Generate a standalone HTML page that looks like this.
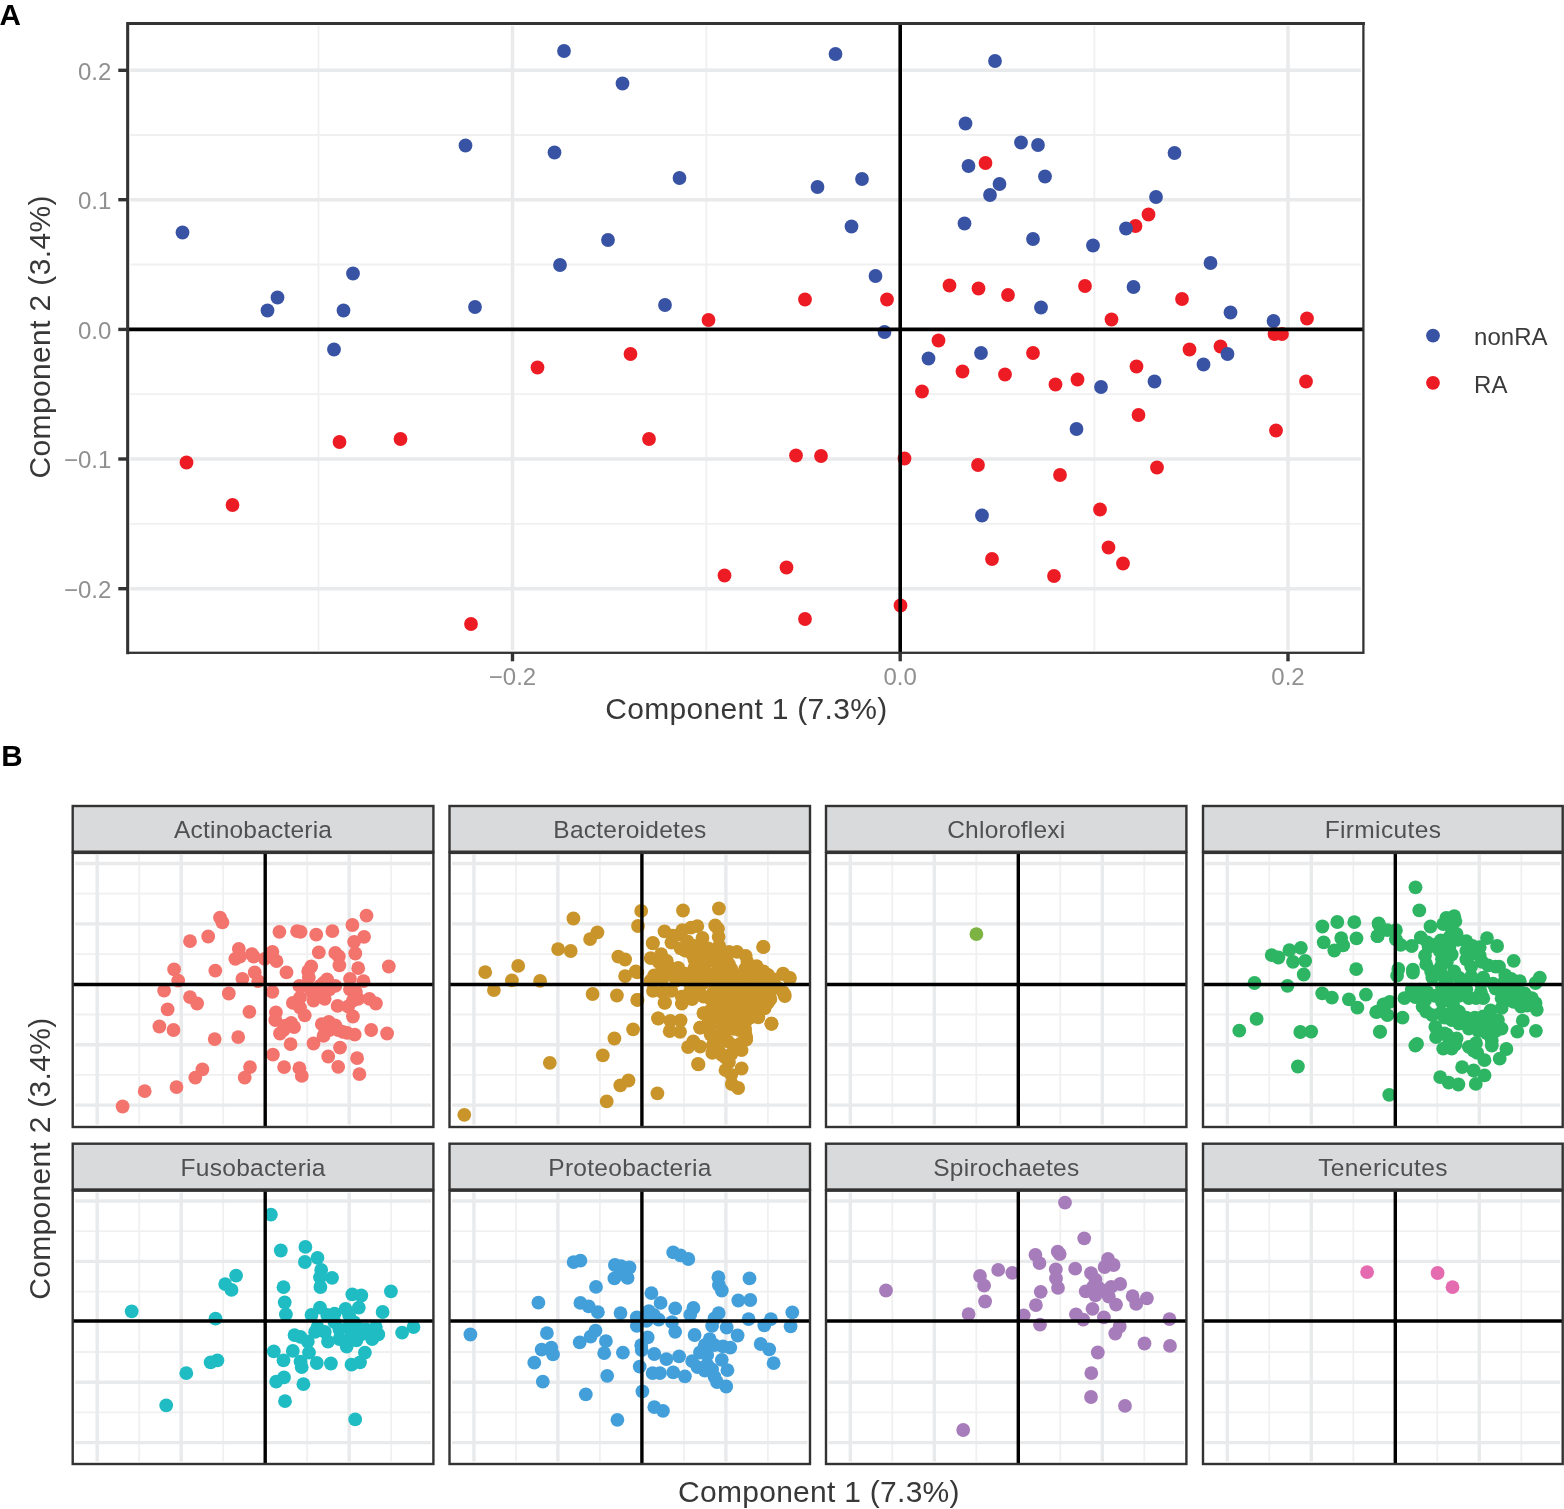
<!DOCTYPE html>
<html lang="en"><head><meta charset="utf-8"><title>Figure</title>
<style>
html,body{margin:0;padding:0;background:#fff;}
body{width:1564px;height:1509px;overflow:hidden;}
svg{display:block;}
text{font-family:"Liberation Sans","DejaVu Sans",sans-serif;}
.tick{font-size:24px;fill:#909090;}
.title{font-size:30px;fill:#383838;}
.strip{font-size:24.5px;fill:#505050;}
.lab{font-size:29.6px;font-weight:bold;fill:#000;}
.leg{font-size:24px;fill:#3a3a3a;}
</style></head><body>
<svg width="1564" height="1509" viewBox="0 0 1564 1509">
<rect x="0" y="0" width="1564" height="1509" fill="#fff"/>
<g id="panelA">
<g stroke="#f0f0f1" stroke-width="1.8">
<line x1="318.5" y1="26.1" x2="318.5" y2="650.3"/>
<line x1="706.3" y1="26.1" x2="706.3" y2="650.3"/>
<line x1="1094.4" y1="26.1" x2="1094.4" y2="650.3"/>
<line x1="130.3" y1="135" x2="1360.9" y2="135"/>
<line x1="130.3" y1="264.5" x2="1360.9" y2="264.5"/>
<line x1="130.3" y1="394.2" x2="1360.9" y2="394.2"/>
<line x1="130.3" y1="523.8" x2="1360.9" y2="523.8"/>
</g>
<g stroke="#e9eaec" stroke-width="3.5">
<line x1="512.5" y1="26.1" x2="512.5" y2="650.3"/>
<line x1="1288" y1="26.1" x2="1288" y2="650.3"/>
<line x1="130.3" y1="70.3" x2="1360.9" y2="70.3"/>
<line x1="130.3" y1="199.7" x2="1360.9" y2="199.7"/>
<line x1="130.3" y1="459" x2="1360.9" y2="459"/>
<line x1="130.3" y1="588.7" x2="1360.9" y2="588.7"/>
</g>
<g fill="#ed1c24"><circle cx="708.5" cy="320" r="6.9"/><circle cx="630.5" cy="354" r="6.9"/><circle cx="537.5" cy="367.5" r="6.9"/><circle cx="985.5" cy="163" r="6.9"/><circle cx="1148.5" cy="214.5" r="6.9"/><circle cx="1135.5" cy="226" r="6.9"/><circle cx="949.5" cy="285.5" r="6.9"/><circle cx="978.5" cy="288.5" r="6.9"/><circle cx="1008" cy="295" r="6.9"/><circle cx="1085" cy="286" r="6.9"/><circle cx="805" cy="299.5" r="6.9"/><circle cx="887" cy="299.5" r="6.9"/><circle cx="1182" cy="299" r="6.9"/><circle cx="1111.5" cy="319.5" r="6.9"/><circle cx="1307" cy="318.5" r="6.9"/><circle cx="1274.5" cy="334" r="6.9"/><circle cx="1282" cy="334" r="6.9"/><circle cx="938.5" cy="340.5" r="6.9"/><circle cx="1033" cy="353" r="6.9"/><circle cx="1189.5" cy="349.5" r="6.9"/><circle cx="1220.5" cy="346.5" r="6.9"/><circle cx="962.5" cy="371.5" r="6.9"/><circle cx="1005" cy="374.5" r="6.9"/><circle cx="1136.5" cy="366.5" r="6.9"/><circle cx="1077.5" cy="379.5" r="6.9"/><circle cx="1055.5" cy="384.5" r="6.9"/><circle cx="1306" cy="381.5" r="6.9"/><circle cx="339.5" cy="442" r="6.9"/><circle cx="400.5" cy="439" r="6.9"/><circle cx="649" cy="439" r="6.9"/><circle cx="186.5" cy="462.5" r="6.9"/><circle cx="232.5" cy="505" r="6.9"/><circle cx="724.5" cy="575.5" r="6.9"/><circle cx="786.5" cy="567.5" r="6.9"/><circle cx="471" cy="624" r="6.9"/><circle cx="922" cy="391.5" r="6.9"/><circle cx="1138.5" cy="415" r="6.9"/><circle cx="1276" cy="430.5" r="6.9"/><circle cx="796" cy="455.5" r="6.9"/><circle cx="821" cy="456" r="6.9"/><circle cx="904.5" cy="458.5" r="6.9"/><circle cx="978" cy="465" r="6.9"/><circle cx="1060" cy="475" r="6.9"/><circle cx="1157" cy="467.5" r="6.9"/><circle cx="1100" cy="509.5" r="6.9"/><circle cx="1108.5" cy="547.5" r="6.9"/><circle cx="992" cy="559" r="6.9"/><circle cx="1123" cy="563.5" r="6.9"/><circle cx="1054" cy="576" r="6.9"/><circle cx="900.5" cy="605.5" r="6.9"/><circle cx="805" cy="619" r="6.9"/></g>
<g fill="#3953a4"><circle cx="564" cy="51" r="6.9"/><circle cx="622.5" cy="83.5" r="6.9"/><circle cx="465.5" cy="145.5" r="6.9"/><circle cx="554.5" cy="152.5" r="6.9"/><circle cx="679.5" cy="178" r="6.9"/><circle cx="182.5" cy="232.5" r="6.9"/><circle cx="608" cy="240" r="6.9"/><circle cx="560" cy="265" r="6.9"/><circle cx="353" cy="273.5" r="6.9"/><circle cx="277.5" cy="297.5" r="6.9"/><circle cx="267.5" cy="310.5" r="6.9"/><circle cx="343.5" cy="310.5" r="6.9"/><circle cx="475" cy="307" r="6.9"/><circle cx="665" cy="305" r="6.9"/><circle cx="334" cy="349.5" r="6.9"/><circle cx="835.5" cy="54" r="6.9"/><circle cx="995" cy="61" r="6.9"/><circle cx="965.5" cy="123.5" r="6.9"/><circle cx="1021" cy="142.5" r="6.9"/><circle cx="1038" cy="145" r="6.9"/><circle cx="1174.5" cy="153" r="6.9"/><circle cx="968.5" cy="166" r="6.9"/><circle cx="1045" cy="176.5" r="6.9"/><circle cx="862" cy="179" r="6.9"/><circle cx="817.5" cy="187" r="6.9"/><circle cx="999.5" cy="184" r="6.9"/><circle cx="990" cy="195" r="6.9"/><circle cx="1156" cy="197" r="6.9"/><circle cx="964.5" cy="223.5" r="6.9"/><circle cx="851.5" cy="226.5" r="6.9"/><circle cx="1126" cy="228.5" r="6.9"/><circle cx="1033" cy="239" r="6.9"/><circle cx="1093" cy="245.5" r="6.9"/><circle cx="1210.5" cy="263" r="6.9"/><circle cx="875.5" cy="276" r="6.9"/><circle cx="1133.5" cy="287" r="6.9"/><circle cx="1041" cy="307.5" r="6.9"/><circle cx="1230.5" cy="312.5" r="6.9"/><circle cx="1273.5" cy="321" r="6.9"/><circle cx="884.5" cy="332" r="6.9"/><circle cx="928.5" cy="358.5" r="6.9"/><circle cx="981" cy="353" r="6.9"/><circle cx="1227.5" cy="354" r="6.9"/><circle cx="1203.5" cy="364.5" r="6.9"/><circle cx="1154.5" cy="381.5" r="6.9"/><circle cx="1101" cy="387" r="6.9"/><circle cx="1076.5" cy="429" r="6.9"/><circle cx="982" cy="515.5" r="6.9"/></g>
<g stroke="#000" stroke-width="3.6">
<line x1="900.2" y1="23.6" x2="900.2" y2="652.8"/>
<line x1="127.8" y1="329.4" x2="1363.4" y2="329.4"/>
</g>
<rect x="127.8" y="23.6" width="1235.6" height="629.2" fill="none" stroke="#333" stroke-width="2.3"/>
<path d="M127.7 652.8V23.5H1363.4" fill="none" stroke="#333" stroke-width="3" stroke-linecap="square"/>
<g stroke="#333" stroke-width="3.4">
<line x1="118.3" y1="70.3" x2="127.8" y2="70.3"/>
<line x1="118.3" y1="199.7" x2="127.8" y2="199.7"/>
<line x1="118.3" y1="329.4" x2="127.8" y2="329.4"/>
<line x1="118.3" y1="459" x2="127.8" y2="459"/>
<line x1="118.3" y1="588.7" x2="127.8" y2="588.7"/>
<line x1="512.5" y1="652.8" x2="512.5" y2="661.3"/>
<line x1="900.2" y1="652.8" x2="900.2" y2="661.3"/>
<line x1="1288" y1="652.8" x2="1288" y2="661.3"/>
</g>
<text class="tick" x="111.4" y="79.5" text-anchor="end">0.2</text>
<text class="tick" x="111.4" y="208.9" text-anchor="end">0.1</text>
<text class="tick" x="111.4" y="338.6" text-anchor="end">0.0</text>
<text class="tick" x="111.4" y="468.2" text-anchor="end">−0.1</text>
<text class="tick" x="111.4" y="597.9" text-anchor="end">−0.2</text>
<text class="tick" x="512.5" y="685.2" text-anchor="middle">−0.2</text>
<text class="tick" x="900.2" y="685.2" text-anchor="middle">0.0</text>
<text class="tick" x="1288" y="685.2" text-anchor="middle">0.2</text>
<text class="title" x="746.2" y="719.3" text-anchor="middle" textLength="282">Component 1 (7.3%)</text>
<text class="title" transform="translate(50.2,337) rotate(-90)" text-anchor="middle" textLength="283">Component 2 (3.4%)</text>
<circle cx="1433" cy="335.6" r="6.9" fill="#3953a4"/>
<text class="leg" x="1474" y="344.6" textLength="73.5">nonRA</text>
<circle cx="1433" cy="382.8" r="6.9" fill="#ed1c24"/>
<text class="leg" x="1474" y="392.6" textLength="33.5">RA</text>
<text class="lab" x="-0.6" y="24.7">A</text>
</g>
<g id="panelB">
<text class="lab" x="1.3" y="766">B</text>
<g>
<g stroke="#f0f0f1" stroke-width="1.8">
<line x1="139.2" y1="854.8" x2="139.2" y2="1124.5"/>
<line x1="223.2" y1="854.8" x2="223.2" y2="1124.5"/>
<line x1="307.2" y1="854.8" x2="307.2" y2="1124.5"/>
<line x1="391.2" y1="854.8" x2="391.2" y2="1124.5"/>
<line x1="75.2" y1="893.7" x2="430.9" y2="893.7"/>
<line x1="75.2" y1="954.1" x2="430.9" y2="954.1"/>
<line x1="75.2" y1="1014.5" x2="430.9" y2="1014.5"/>
<line x1="75.2" y1="1074.9" x2="430.9" y2="1074.9"/>
</g>
<g stroke="#e9eaec" stroke-width="3.4">
<line x1="97.2" y1="854.8" x2="97.2" y2="1124.5"/>
<line x1="181.2" y1="854.8" x2="181.2" y2="1124.5"/>
<line x1="349.2" y1="854.8" x2="349.2" y2="1124.5"/>
<line x1="75.2" y1="863.5" x2="430.9" y2="863.5"/>
<line x1="75.2" y1="923.9" x2="430.9" y2="923.9"/>
<line x1="75.2" y1="1044.7" x2="430.9" y2="1044.7"/>
<line x1="75.2" y1="1105.1" x2="430.9" y2="1105.1"/>
</g>
<g fill="#f3736d"><circle cx="366.5" cy="915.6" r="6.9"/><circle cx="220" cy="917.6" r="6.9"/><circle cx="222.4" cy="922.4" r="6.9"/><circle cx="352.4" cy="925" r="6.9"/><circle cx="279.4" cy="931.8" r="6.9"/><circle cx="297.1" cy="931.2" r="6.9"/><circle cx="300.6" cy="931.8" r="6.9"/><circle cx="316.2" cy="934.7" r="6.9"/><circle cx="332.4" cy="931.2" r="6.9"/><circle cx="208.2" cy="936.5" r="6.9"/><circle cx="364.1" cy="936.8" r="6.9"/><circle cx="354.1" cy="941.8" r="6.9"/><circle cx="190" cy="941.2" r="6.9"/><circle cx="238.8" cy="948.8" r="6.9"/><circle cx="318.8" cy="952.4" r="6.9"/><circle cx="335.3" cy="952.9" r="6.9"/><circle cx="338.8" cy="956.5" r="6.9"/><circle cx="355.3" cy="953.5" r="6.9"/><circle cx="272.4" cy="951.8" r="6.9"/><circle cx="251.8" cy="954.1" r="6.9"/><circle cx="253.5" cy="956.5" r="6.9"/><circle cx="235.3" cy="958.8" r="6.9"/><circle cx="240" cy="956.5" r="6.9"/><circle cx="264.7" cy="958.8" r="6.9"/><circle cx="276.5" cy="961.2" r="6.9"/><circle cx="339.4" cy="965.3" r="6.9"/><circle cx="388.8" cy="966.5" r="6.9"/><circle cx="358.2" cy="968.2" r="6.9"/><circle cx="311.2" cy="966.5" r="6.9"/><circle cx="308.2" cy="971.2" r="6.9"/><circle cx="174.1" cy="969.4" r="6.9"/><circle cx="215.3" cy="970.6" r="6.9"/><circle cx="254.7" cy="972.4" r="6.9"/><circle cx="286.5" cy="972.4" r="6.9"/><circle cx="242.4" cy="978.8" r="6.9"/><circle cx="178.2" cy="980.6" r="6.9"/><circle cx="258.2" cy="981.2" r="6.9"/><circle cx="327.1" cy="979.4" r="6.9"/><circle cx="350" cy="978.8" r="6.9"/><circle cx="363.5" cy="981.2" r="6.9"/><circle cx="308.8" cy="977.6" r="6.9"/><circle cx="299.4" cy="985.9" r="6.9"/><circle cx="320" cy="985.9" r="6.9"/><circle cx="329.4" cy="989.4" r="6.9"/><circle cx="164.1" cy="990.6" r="6.9"/><circle cx="272.4" cy="991.8" r="6.9"/><circle cx="228.8" cy="993.5" r="6.9"/><circle cx="350" cy="989.4" r="6.9"/><circle cx="311.8" cy="991.8" r="6.9"/><circle cx="190" cy="997.1" r="6.9"/><circle cx="197.1" cy="1003.5" r="6.9"/><circle cx="300" cy="997.6" r="6.9"/><circle cx="292.9" cy="1002.9" r="6.9"/><circle cx="313.5" cy="1000.6" r="6.9"/><circle cx="324.7" cy="998.8" r="6.9"/><circle cx="337.6" cy="1005.9" r="6.9"/><circle cx="348.2" cy="1006.5" r="6.9"/><circle cx="358.2" cy="998.8" r="6.9"/><circle cx="369.4" cy="998.8" r="6.9"/><circle cx="375.9" cy="1003.5" r="6.9"/><circle cx="167.6" cy="1009.4" r="6.9"/><circle cx="249.4" cy="1011.8" r="6.9"/><circle cx="275.9" cy="1012.4" r="6.9"/><circle cx="300" cy="1007.6" r="6.9"/><circle cx="304.7" cy="1015.3" r="6.9"/><circle cx="352.9" cy="1016.5" r="6.9"/><circle cx="275.3" cy="1020" r="6.9"/><circle cx="291.2" cy="1022.9" r="6.9"/><circle cx="294.1" cy="1027.1" r="6.9"/><circle cx="321.8" cy="1024.1" r="6.9"/><circle cx="328.8" cy="1021.8" r="6.9"/><circle cx="335.3" cy="1025.3" r="6.9"/><circle cx="159.4" cy="1026.5" r="6.9"/><circle cx="173.5" cy="1030" r="6.9"/><circle cx="283.5" cy="1030" r="6.9"/><circle cx="280" cy="1033.5" r="6.9"/><circle cx="325.3" cy="1030" r="6.9"/><circle cx="342.9" cy="1031.8" r="6.9"/><circle cx="354.7" cy="1034.7" r="6.9"/><circle cx="371.2" cy="1030" r="6.9"/><circle cx="387.1" cy="1033.5" r="6.9"/><circle cx="214.7" cy="1039.1" r="6.9"/><circle cx="238.2" cy="1037.1" r="6.9"/><circle cx="323.5" cy="1035.9" r="6.9"/><circle cx="313.5" cy="1043.5" r="6.9"/><circle cx="290.6" cy="1044.1" r="6.9"/><circle cx="340" cy="1047.6" r="6.9"/><circle cx="272.9" cy="1054.7" r="6.9"/><circle cx="328.2" cy="1056.5" r="6.9"/><circle cx="357.1" cy="1058.2" r="6.9"/><circle cx="284.1" cy="1067.1" r="6.9"/><circle cx="299.4" cy="1068.2" r="6.9"/><circle cx="301.8" cy="1075.9" r="6.9"/><circle cx="338.2" cy="1066.8" r="6.9"/><circle cx="359.4" cy="1074.1" r="6.9"/><circle cx="250" cy="1067.1" r="6.9"/><circle cx="244.7" cy="1077.6" r="6.9"/><circle cx="202.4" cy="1069.4" r="6.9"/><circle cx="195.3" cy="1077.6" r="6.9"/><circle cx="176.5" cy="1087.1" r="6.9"/><circle cx="144.7" cy="1091.2" r="6.9"/><circle cx="122.6" cy="1106.5" r="6.9"/><circle cx="305.9" cy="985.9" r="6.9"/><circle cx="317.6" cy="994.7" r="6.9"/><circle cx="323.5" cy="982.9" r="6.9"/><circle cx="335.3" cy="985.9" r="6.9"/><circle cx="355.9" cy="991.8" r="6.9"/><circle cx="352.9" cy="1000.6" r="6.9"/><circle cx="329.4" cy="1030" r="6.9"/><circle cx="338.2" cy="1030" r="6.9"/><circle cx="347.1" cy="1032.9" r="6.9"/><circle cx="285.3" cy="1025.6" r="6.9"/></g>
<g stroke="#000" stroke-width="3.4">
<line x1="265.2" y1="852.3" x2="265.2" y2="1127"/>
<line x1="72.7" y1="984.5" x2="433.4" y2="984.5"/>
</g>
<rect x="72.7" y="852.9" width="360.7" height="274.1" fill="none" stroke="#333" stroke-width="2.4"/>
<rect x="72.7" y="806" width="360.7" height="45.7" fill="#d9dadb" stroke="#333" stroke-width="2.4"/>
<text class="strip" x="253" y="838.4" text-anchor="middle" textLength="158">Actinobacteria</text>
</g>
<g>
<g stroke="#f0f0f1" stroke-width="1.8">
<line x1="515.9" y1="854.8" x2="515.9" y2="1124.5"/>
<line x1="599.9" y1="854.8" x2="599.9" y2="1124.5"/>
<line x1="683.9" y1="854.8" x2="683.9" y2="1124.5"/>
<line x1="767.9" y1="854.8" x2="767.9" y2="1124.5"/>
<line x1="452" y1="893.7" x2="807.5" y2="893.7"/>
<line x1="452" y1="954.1" x2="807.5" y2="954.1"/>
<line x1="452" y1="1014.5" x2="807.5" y2="1014.5"/>
<line x1="452" y1="1074.9" x2="807.5" y2="1074.9"/>
</g>
<g stroke="#e9eaec" stroke-width="3.4">
<line x1="473.9" y1="854.8" x2="473.9" y2="1124.5"/>
<line x1="557.9" y1="854.8" x2="557.9" y2="1124.5"/>
<line x1="725.9" y1="854.8" x2="725.9" y2="1124.5"/>
<line x1="452" y1="863.5" x2="807.5" y2="863.5"/>
<line x1="452" y1="923.9" x2="807.5" y2="923.9"/>
<line x1="452" y1="1044.7" x2="807.5" y2="1044.7"/>
<line x1="452" y1="1105.1" x2="807.5" y2="1105.1"/>
</g>
<g fill="#c9952b"><circle cx="464.3" cy="1114.8" r="6.9"/><circle cx="485.2" cy="972.2" r="6.9"/><circle cx="518.2" cy="965.9" r="6.9"/><circle cx="511.9" cy="980.4" r="6.9"/><circle cx="540.1" cy="980.9" r="6.9"/><circle cx="493.9" cy="990.1" r="6.9"/><circle cx="573.4" cy="918.5" r="6.9"/><circle cx="558.1" cy="949.1" r="6.9"/><circle cx="570.7" cy="951" r="6.9"/><circle cx="597.4" cy="932.3" r="6.9"/><circle cx="590.1" cy="939.1" r="6.9"/><circle cx="641.2" cy="910.9" r="6.9"/><circle cx="638" cy="926" r="6.9"/><circle cx="683" cy="910.5" r="6.9"/><circle cx="718.9" cy="908.5" r="6.9"/><circle cx="763.1" cy="946.9" r="6.9"/><circle cx="618.3" cy="956.6" r="6.9"/><circle cx="625.1" cy="959.5" r="6.9"/><circle cx="625.1" cy="976.1" r="6.9"/><circle cx="637.3" cy="972.4" r="6.9"/><circle cx="592.6" cy="994" r="6.9"/><circle cx="616.9" cy="995.5" r="6.9"/><circle cx="637.3" cy="999.9" r="6.9"/><circle cx="633.1" cy="1029.3" r="6.9"/><circle cx="614.4" cy="1038.5" r="6.9"/><circle cx="602.8" cy="1055.3" r="6.9"/><circle cx="549.8" cy="1062.8" r="6.9"/><circle cx="628.5" cy="1080.5" r="6.9"/><circle cx="620.3" cy="1085.4" r="6.9"/><circle cx="606.7" cy="1101.4" r="6.9"/><circle cx="657.4" cy="1093.4" r="6.9"/><circle cx="698" cy="1064" r="6.9"/><circle cx="771.4" cy="1023.7" r="6.9"/><circle cx="783.1" cy="973.6" r="6.9"/><circle cx="789.9" cy="978" r="6.9"/><circle cx="784.5" cy="994.5" r="6.9"/><circle cx="658.2" cy="1018.3" r="6.9"/><circle cx="664.5" cy="1002.8" r="6.9"/><circle cx="652.8" cy="943.3" r="6.9"/><circle cx="664.5" cy="931.3" r="6.9"/><circle cx="682.4" cy="930.1" r="6.9"/><circle cx="691" cy="927.6" r="6.9"/><circle cx="697.3" cy="926.2" r="6.9"/><circle cx="715.2" cy="925.5" r="6.9"/><circle cx="718" cy="928.8" r="6.9"/><circle cx="702.5" cy="938" r="6.9"/><circle cx="652.8" cy="943" r="6.9"/><circle cx="718.6" cy="936.8" r="6.9"/><circle cx="671.4" cy="942.6" r="6.9"/><circle cx="687.5" cy="941.4" r="6.9"/><circle cx="719.2" cy="946" r="6.9"/><circle cx="763.5" cy="947" r="6.9"/><circle cx="661.1" cy="954.1" r="6.9"/><circle cx="715.2" cy="950.6" r="6.9"/><circle cx="737" cy="951.8" r="6.9"/><circle cx="745.7" cy="955.8" r="6.9"/><circle cx="650.7" cy="958.1" r="6.9"/><circle cx="666.8" cy="961" r="6.9"/><circle cx="692.1" cy="954.1" r="6.9"/><circle cx="703.6" cy="955.2" r="6.9"/><circle cx="756.6" cy="966.2" r="6.9"/><circle cx="726.7" cy="959.8" r="6.9"/><circle cx="635.8" cy="971.3" r="6.9"/><circle cx="654.2" cy="975.4" r="6.9"/><circle cx="678.3" cy="967.9" r="6.9"/><circle cx="694.4" cy="967.9" r="6.9"/><circle cx="704.8" cy="964.4" r="6.9"/><circle cx="724.4" cy="971.3" r="6.9"/><circle cx="745.1" cy="969" r="6.9"/><circle cx="768.1" cy="974.8" r="6.9"/><circle cx="783" cy="974.2" r="6.9"/><circle cx="789.4" cy="978.3" r="6.9"/><circle cx="668" cy="973.6" r="6.9"/><circle cx="682.9" cy="978.3" r="6.9"/><circle cx="699" cy="978.3" r="6.9"/><circle cx="733.6" cy="979.4" r="6.9"/><circle cx="749.7" cy="978.3" r="6.9"/><circle cx="653" cy="990.9" r="6.9"/><circle cx="671.4" cy="990.9" r="6.9"/><circle cx="689.8" cy="992.1" r="6.9"/><circle cx="697.9" cy="994.4" r="6.9"/><circle cx="712.9" cy="993.2" r="6.9"/><circle cx="727.8" cy="992.1" r="6.9"/><circle cx="745.1" cy="992.1" r="6.9"/><circle cx="760" cy="992.1" r="6.9"/><circle cx="769.2" cy="993.2" r="6.9"/><circle cx="783" cy="992.1" r="6.9"/><circle cx="784.8" cy="996.1" r="6.9"/><circle cx="637.5" cy="999.9" r="6.9"/><circle cx="665.1" cy="1002.6" r="6.9"/><circle cx="681.8" cy="1003.6" r="6.9"/><circle cx="692.1" cy="999" r="6.9"/><circle cx="768.1" cy="1002.4" r="6.9"/><circle cx="733.6" cy="1001.3" r="6.9"/><circle cx="745.1" cy="1001.3" r="6.9"/><circle cx="756.6" cy="1003.6" r="6.9"/><circle cx="703.6" cy="1013.3" r="6.9"/><circle cx="717.5" cy="1010.5" r="6.9"/><circle cx="731.3" cy="1010.5" r="6.9"/><circle cx="745.1" cy="1010.5" r="6.9"/><circle cx="758.9" cy="1011.6" r="6.9"/><circle cx="764.6" cy="1008.2" r="6.9"/><circle cx="658.2" cy="1018.5" r="6.9"/><circle cx="670.3" cy="1020.8" r="6.9"/><circle cx="680.6" cy="1020.3" r="6.9"/><circle cx="669.7" cy="1031.2" r="6.9"/><circle cx="680.1" cy="1031.8" r="6.9"/><circle cx="700.2" cy="1027.7" r="6.9"/><circle cx="715.2" cy="1022" r="6.9"/><circle cx="722.1" cy="1026.6" r="6.9"/><circle cx="745.1" cy="1022" r="6.9"/><circle cx="758.3" cy="1017.4" r="6.9"/><circle cx="771.5" cy="1023.7" r="6.9"/><circle cx="693.3" cy="1041.5" r="6.9"/><circle cx="717.5" cy="1035.8" r="6.9"/><circle cx="745.1" cy="1032.3" r="6.9"/><circle cx="746.2" cy="1036.9" r="6.9"/><circle cx="685.2" cy="950.6" r="6.9"/><circle cx="694.4" cy="959.8" r="6.9"/><circle cx="710.6" cy="959.8" r="6.9"/><circle cx="717.5" cy="964.4" r="6.9"/><circle cx="731.3" cy="969" r="6.9"/><circle cx="710.6" cy="978.3" r="6.9"/><circle cx="722.1" cy="980.6" r="6.9"/><circle cx="760" cy="980.6" r="6.9"/><circle cx="772.7" cy="982.9" r="6.9"/><circle cx="719.8" cy="999" r="6.9"/><circle cx="710.6" cy="999" r="6.9"/><circle cx="754.3" cy="996.7" r="6.9"/><circle cx="739.3" cy="1019.7" r="6.9"/><circle cx="710.6" cy="1015.1" r="6.9"/><circle cx="724.4" cy="1016.2" r="6.9"/><circle cx="703.6" cy="1013.2" r="6.9"/><circle cx="717.5" cy="1010.4" r="6.9"/><circle cx="731.3" cy="1010.4" r="6.9"/><circle cx="745.1" cy="1010.4" r="6.9"/><circle cx="758.3" cy="1016.7" r="6.9"/><circle cx="764.6" cy="1008.1" r="6.9"/><circle cx="771.5" cy="1023.8" r="6.9"/><circle cx="700.2" cy="1027.6" r="6.9"/><circle cx="715.2" cy="1021.9" r="6.9"/><circle cx="722.1" cy="1026.5" r="6.9"/><circle cx="745.1" cy="1021.9" r="6.9"/><circle cx="745.1" cy="1028.8" r="6.9"/><circle cx="693.3" cy="1042.6" r="6.9"/><circle cx="688.1" cy="1047.2" r="6.9"/><circle cx="700.2" cy="1046.6" r="6.9"/><circle cx="712.9" cy="1044.9" r="6.9"/><circle cx="719.8" cy="1038" r="6.9"/><circle cx="727.8" cy="1041.4" r="6.9"/><circle cx="746.2" cy="1039.7" r="6.9"/><circle cx="733.6" cy="1045.5" r="6.9"/><circle cx="741.6" cy="1050.1" r="6.9"/><circle cx="712.3" cy="1052.9" r="6.9"/><circle cx="725.5" cy="1057.5" r="6.9"/><circle cx="729" cy="1062.1" r="6.9"/><circle cx="698.5" cy="1064.4" r="6.9"/><circle cx="725.5" cy="1070.2" r="6.9"/><circle cx="741.6" cy="1068.5" r="6.9"/><circle cx="731.3" cy="1074.8" r="6.9"/><circle cx="731.8" cy="1084" r="6.9"/><circle cx="738.2" cy="1088" r="6.9"/><circle cx="710.6" cy="1034.5" r="6.9"/><circle cx="724.4" cy="1034.5" r="6.9"/><circle cx="733.6" cy="1028.8" r="6.9"/><circle cx="672.6" cy="935.7" r="6.9"/><circle cx="679.5" cy="934.5" r="6.9"/><circle cx="680.6" cy="948.3" r="6.9"/><circle cx="687.5" cy="948.3" r="6.9"/><circle cx="694.4" cy="946" r="6.9"/><circle cx="699" cy="948.3" r="6.9"/><circle cx="708.3" cy="948.3" r="6.9"/><circle cx="658.8" cy="962.1" r="6.9"/><circle cx="670.3" cy="967.9" r="6.9"/><circle cx="662.2" cy="969" r="6.9"/><circle cx="685.2" cy="973.6" r="6.9"/><circle cx="692.1" cy="975.9" r="6.9"/><circle cx="701.3" cy="973.6" r="6.9"/><circle cx="708.3" cy="973.6" r="6.9"/><circle cx="729" cy="951.8" r="6.9"/><circle cx="722.1" cy="955.2" r="6.9"/><circle cx="729" cy="964.4" r="6.9"/><circle cx="747.4" cy="962.1" r="6.9"/><circle cx="750.8" cy="973.6" r="6.9"/><circle cx="758.9" cy="975.9" r="6.9"/><circle cx="763.5" cy="971.3" r="6.9"/><circle cx="662.2" cy="992.1" r="6.9"/><circle cx="681.8" cy="996.7" r="6.9"/><circle cx="699" cy="988.6" r="6.9"/><circle cx="703.6" cy="996.7" r="6.9"/><circle cx="719.8" cy="990.9" r="6.9"/><circle cx="735.9" cy="990.9" r="6.9"/><circle cx="752" cy="990.9" r="6.9"/><circle cx="765.8" cy="997.8" r="6.9"/><circle cx="717.5" cy="997.8" r="6.9"/><circle cx="726.7" cy="1000.1" r="6.9"/><circle cx="739.3" cy="997.8" r="6.9"/><circle cx="750.8" cy="1001.3" r="6.9"/><circle cx="762.3" cy="1001.3" r="6.9"/><circle cx="710.6" cy="1010.5" r="6.9"/><circle cx="724.4" cy="1009.3" r="6.9"/><circle cx="738.2" cy="1009.3" r="6.9"/><circle cx="752" cy="1010.5" r="6.9"/><circle cx="708.3" cy="1018.5" r="6.9"/><circle cx="722.1" cy="1019.7" r="6.9"/><circle cx="733.6" cy="1017.4" r="6.9"/><circle cx="750.8" cy="1017.4" r="6.9"/><circle cx="770.4" cy="999" r="6.9"/><circle cx="708.3" cy="1026.6" r="6.9"/><circle cx="731.3" cy="1027.7" r="6.9"/><circle cx="739.3" cy="1030" r="6.9"/><circle cx="699" cy="959.8" r="6.9"/><circle cx="701.3" cy="964.4" r="6.9"/><circle cx="717.5" cy="973.6" r="6.9"/><circle cx="733.6" cy="973.6" r="6.9"/><circle cx="740.5" cy="975.9" r="6.9"/><circle cx="773.8" cy="979.4" r="6.9"/><circle cx="777.3" cy="987.5" r="6.9"/><circle cx="689.8" cy="982.9" r="6.9"/><circle cx="676" cy="980.6" r="6.9"/><circle cx="662.2" cy="979.4" r="6.9"/><circle cx="650.7" cy="980.6" r="6.9"/><circle cx="765.8" cy="982.9" r="6.9"/><circle cx="754.3" cy="985.2" r="6.9"/><circle cx="742.8" cy="984" r="6.9"/><circle cx="729" cy="984" r="6.9"/><circle cx="715.2" cy="984" r="6.9"/><circle cx="703.6" cy="982.9" r="6.9"/><circle cx="722.1" cy="1055.2" r="6.9"/><circle cx="731.3" cy="1054.1" r="6.9"/><circle cx="718.6" cy="1050.6" r="6.9"/><circle cx="740.5" cy="1043.7" r="6.9"/></g>
<g stroke="#000" stroke-width="3.4">
<line x1="641.9" y1="852.3" x2="641.9" y2="1127"/>
<line x1="449.5" y1="984.5" x2="810" y2="984.5"/>
</g>
<rect x="449.5" y="852.9" width="360.5" height="274.1" fill="none" stroke="#333" stroke-width="2.4"/>
<rect x="449.5" y="806" width="360.5" height="45.7" fill="#d9dadb" stroke="#333" stroke-width="2.4"/>
<text class="strip" x="629.8" y="838.4" text-anchor="middle" textLength="153">Bacteroidetes</text>
</g>
<g>
<g stroke="#f0f0f1" stroke-width="1.8">
<line x1="892.3" y1="854.8" x2="892.3" y2="1124.5"/>
<line x1="976.3" y1="854.8" x2="976.3" y2="1124.5"/>
<line x1="1060.3" y1="854.8" x2="1060.3" y2="1124.5"/>
<line x1="1144.3" y1="854.8" x2="1144.3" y2="1124.5"/>
<line x1="828.5" y1="893.7" x2="1183.9" y2="893.7"/>
<line x1="828.5" y1="954.1" x2="1183.9" y2="954.1"/>
<line x1="828.5" y1="1014.5" x2="1183.9" y2="1014.5"/>
<line x1="828.5" y1="1074.9" x2="1183.9" y2="1074.9"/>
</g>
<g stroke="#e9eaec" stroke-width="3.4">
<line x1="850.3" y1="854.8" x2="850.3" y2="1124.5"/>
<line x1="934.3" y1="854.8" x2="934.3" y2="1124.5"/>
<line x1="1102.3" y1="854.8" x2="1102.3" y2="1124.5"/>
<line x1="828.5" y1="863.5" x2="1183.9" y2="863.5"/>
<line x1="828.5" y1="923.9" x2="1183.9" y2="923.9"/>
<line x1="828.5" y1="1044.7" x2="1183.9" y2="1044.7"/>
<line x1="828.5" y1="1105.1" x2="1183.9" y2="1105.1"/>
</g>
<g fill="#7cb342"><circle cx="976.4" cy="934.1" r="6.9"/></g>
<g stroke="#000" stroke-width="3.4">
<line x1="1018.3" y1="852.3" x2="1018.3" y2="1127"/>
<line x1="826" y1="984.5" x2="1186.4" y2="984.5"/>
</g>
<rect x="826" y="852.9" width="360.4" height="274.1" fill="none" stroke="#333" stroke-width="2.4"/>
<rect x="826" y="806" width="360.4" height="45.7" fill="#d9dadb" stroke="#333" stroke-width="2.4"/>
<text class="strip" x="1006.2" y="838.4" text-anchor="middle" textLength="118">Chloroflexi</text>
</g>
<g>
<g stroke="#f0f0f1" stroke-width="1.8">
<line x1="1269.3" y1="854.8" x2="1269.3" y2="1124.5"/>
<line x1="1353.3" y1="854.8" x2="1353.3" y2="1124.5"/>
<line x1="1437.3" y1="854.8" x2="1437.3" y2="1124.5"/>
<line x1="1521.3" y1="854.8" x2="1521.3" y2="1124.5"/>
<line x1="1205.5" y1="893.7" x2="1560.2" y2="893.7"/>
<line x1="1205.5" y1="954.1" x2="1560.2" y2="954.1"/>
<line x1="1205.5" y1="1014.5" x2="1560.2" y2="1014.5"/>
<line x1="1205.5" y1="1074.9" x2="1560.2" y2="1074.9"/>
</g>
<g stroke="#e9eaec" stroke-width="3.4">
<line x1="1227.3" y1="854.8" x2="1227.3" y2="1124.5"/>
<line x1="1311.3" y1="854.8" x2="1311.3" y2="1124.5"/>
<line x1="1479.3" y1="854.8" x2="1479.3" y2="1124.5"/>
<line x1="1205.5" y1="863.5" x2="1560.2" y2="863.5"/>
<line x1="1205.5" y1="923.9" x2="1560.2" y2="923.9"/>
<line x1="1205.5" y1="1044.7" x2="1560.2" y2="1044.7"/>
<line x1="1205.5" y1="1105.1" x2="1560.2" y2="1105.1"/>
</g>
<g fill="#2db563"><circle cx="1322.4" cy="926.5" r="6.9"/><circle cx="1337.3" cy="922" r="6.9"/><circle cx="1354.3" cy="922.2" r="6.9"/><circle cx="1378.6" cy="923.5" r="6.9"/><circle cx="1377.4" cy="936.2" r="6.9"/><circle cx="1323.7" cy="942.3" r="6.9"/><circle cx="1341.2" cy="938.1" r="6.9"/><circle cx="1356.5" cy="938.3" r="6.9"/><circle cx="1343.2" cy="945.4" r="6.9"/><circle cx="1334.3" cy="950.5" r="6.9"/><circle cx="1300.9" cy="947.8" r="6.9"/><circle cx="1289.4" cy="950.2" r="6.9"/><circle cx="1271.7" cy="955.1" r="6.9"/><circle cx="1278.4" cy="957.5" r="6.9"/><circle cx="1293" cy="961.8" r="6.9"/><circle cx="1305.2" cy="960.8" r="6.9"/><circle cx="1303.7" cy="974.5" r="6.9"/><circle cx="1356.2" cy="969.2" r="6.9"/><circle cx="1254.5" cy="983" r="6.9"/><circle cx="1287.5" cy="985.8" r="6.9"/><circle cx="1322.2" cy="993.3" r="6.9"/><circle cx="1331.9" cy="997.6" r="6.9"/><circle cx="1348.9" cy="999.4" r="6.9"/><circle cx="1365.9" cy="994.6" r="6.9"/><circle cx="1415.5" cy="887.3" r="6.9"/><circle cx="1419.3" cy="910.4" r="6.9"/><circle cx="1378.9" cy="924.7" r="6.9"/><circle cx="1377.6" cy="936.2" r="6.9"/><circle cx="1387.4" cy="930.2" r="6.9"/><circle cx="1395.9" cy="930.2" r="6.9"/><circle cx="1395.9" cy="939.3" r="6.9"/><circle cx="1446.3" cy="918" r="6.9"/><circle cx="1454.2" cy="916.2" r="6.9"/><circle cx="1455.4" cy="921.1" r="6.9"/><circle cx="1430.5" cy="926.5" r="6.9"/><circle cx="1443.2" cy="924.1" r="6.9"/><circle cx="1420.8" cy="937.5" r="6.9"/><circle cx="1400.7" cy="944.8" r="6.9"/><circle cx="1411.7" cy="946" r="6.9"/><circle cx="1440.8" cy="940.5" r="6.9"/><circle cx="1456.6" cy="933.8" r="6.9"/><circle cx="1457.8" cy="939.9" r="6.9"/><circle cx="1466.3" cy="941.1" r="6.9"/><circle cx="1487" cy="938.1" r="6.9"/><circle cx="1497.1" cy="946" r="6.9"/><circle cx="1479.7" cy="947.2" r="6.9"/><circle cx="1428.7" cy="947.2" r="6.9"/><circle cx="1439.6" cy="950.8" r="6.9"/><circle cx="1449.3" cy="947.2" r="6.9"/><circle cx="1451.7" cy="954.5" r="6.9"/><circle cx="1466.3" cy="950.8" r="6.9"/><circle cx="1479.7" cy="955.7" r="6.9"/><circle cx="1466.3" cy="959.3" r="6.9"/><circle cx="1482.1" cy="961.8" r="6.9"/><circle cx="1513.7" cy="960.8" r="6.9"/><circle cx="1398.3" cy="969" r="6.9"/><circle cx="1397.1" cy="975.7" r="6.9"/><circle cx="1412.9" cy="969.7" r="6.9"/><circle cx="1412.9" cy="972.7" r="6.9"/><circle cx="1426.2" cy="964.2" r="6.9"/><circle cx="1431.1" cy="971.5" r="6.9"/><circle cx="1440.8" cy="966.6" r="6.9"/><circle cx="1442" cy="975.1" r="6.9"/><circle cx="1454.2" cy="971.5" r="6.9"/><circle cx="1432.3" cy="977.6" r="6.9"/><circle cx="1459" cy="977.6" r="6.9"/><circle cx="1471.2" cy="966.6" r="6.9"/><circle cx="1471.2" cy="976.3" r="6.9"/><circle cx="1483.3" cy="977.6" r="6.9"/><circle cx="1495.5" cy="966.6" r="6.9"/><circle cx="1499.1" cy="966.6" r="6.9"/><circle cx="1505.2" cy="975.1" r="6.9"/><circle cx="1514.9" cy="982.4" r="6.9"/><circle cx="1502.8" cy="983.6" r="6.9"/><circle cx="1539.8" cy="977.6" r="6.9"/><circle cx="1535.6" cy="983" r="6.9"/><circle cx="1411.7" cy="989.7" r="6.9"/><circle cx="1404.4" cy="998.2" r="6.9"/><circle cx="1389.8" cy="1001.9" r="6.9"/><circle cx="1384.9" cy="1004.3" r="6.9"/><circle cx="1377.6" cy="1011.6" r="6.9"/><circle cx="1387.4" cy="1015.2" r="6.9"/><circle cx="1402.5" cy="1017.7" r="6.9"/><circle cx="1380.1" cy="1031.6" r="6.9"/><circle cx="1415.3" cy="997" r="6.9"/><circle cx="1425" cy="1000.7" r="6.9"/><circle cx="1434.7" cy="995.8" r="6.9"/><circle cx="1449.3" cy="992.1" r="6.9"/><circle cx="1459" cy="995.8" r="6.9"/><circle cx="1468.8" cy="998.2" r="6.9"/><circle cx="1480.9" cy="992.1" r="6.9"/><circle cx="1483.3" cy="998.2" r="6.9"/><circle cx="1507.6" cy="990.9" r="6.9"/><circle cx="1517.3" cy="993.4" r="6.9"/><circle cx="1531.9" cy="998.2" r="6.9"/><circle cx="1501.6" cy="998.2" r="6.9"/><circle cx="1535.6" cy="1003.1" r="6.9"/><circle cx="1536.8" cy="1009.8" r="6.9"/><circle cx="1521" cy="1006.7" r="6.9"/><circle cx="1501.6" cy="1007.9" r="6.9"/><circle cx="1490.6" cy="1010.4" r="6.9"/><circle cx="1522.8" cy="1020.7" r="6.9"/><circle cx="1535.9" cy="1030.8" r="6.9"/><circle cx="1517.3" cy="1031.6" r="6.9"/><circle cx="1501.6" cy="1028.6" r="6.9"/><circle cx="1497.9" cy="1020.1" r="6.9"/><circle cx="1426.2" cy="1011.6" r="6.9"/><circle cx="1422.6" cy="1006.7" r="6.9"/><circle cx="1440.8" cy="1012.8" r="6.9"/><circle cx="1444.5" cy="1017.7" r="6.9"/><circle cx="1453" cy="1004.3" r="6.9"/><circle cx="1459" cy="1011.6" r="6.9"/><circle cx="1466.3" cy="1017.7" r="6.9"/><circle cx="1474.8" cy="1017.7" r="6.9"/><circle cx="1480.9" cy="1023.7" r="6.9"/><circle cx="1459" cy="1023.7" r="6.9"/><circle cx="1468.8" cy="1028.6" r="6.9"/><circle cx="1478.5" cy="1031" r="6.9"/><circle cx="1487" cy="1033.4" r="6.9"/><circle cx="1435.3" cy="1026.8" r="6.9"/><circle cx="1436" cy="1037.1" r="6.9"/><circle cx="1444.5" cy="1033.4" r="6.9"/><circle cx="1456.6" cy="1038.3" r="6.9"/><circle cx="1455.4" cy="1044.4" r="6.9"/><circle cx="1443.2" cy="1048.6" r="6.9"/><circle cx="1451.7" cy="1048.6" r="6.9"/><circle cx="1417.1" cy="1043.8" r="6.9"/><circle cx="1415.3" cy="1045.6" r="6.9"/><circle cx="1468.8" cy="1046.8" r="6.9"/><circle cx="1476" cy="1043.2" r="6.9"/><circle cx="1477.3" cy="1052.9" r="6.9"/><circle cx="1484.5" cy="1060.2" r="6.9"/><circle cx="1491.8" cy="1045.6" r="6.9"/><circle cx="1491.8" cy="1040.7" r="6.9"/><circle cx="1506.4" cy="1049" r="6.9"/><circle cx="1499.7" cy="1058.7" r="6.9"/><circle cx="1462.1" cy="1067.1" r="6.9"/><circle cx="1473.6" cy="1070.5" r="6.9"/><circle cx="1484.5" cy="1075.4" r="6.9"/><circle cx="1475.8" cy="1083.9" r="6.9"/><circle cx="1440.2" cy="1077.2" r="6.9"/><circle cx="1448.7" cy="1082.6" r="6.9"/><circle cx="1458.4" cy="1084.5" r="6.9"/><circle cx="1389.2" cy="1094.8" r="6.9"/><circle cx="1256.6" cy="1018.9" r="6.9"/><circle cx="1239.3" cy="1030.7" r="6.9"/><circle cx="1300.3" cy="1032" r="6.9"/><circle cx="1311.2" cy="1031.6" r="6.9"/><circle cx="1297.9" cy="1066.5" r="6.9"/><circle cx="1357.4" cy="1007.7" r="6.9"/><circle cx="1376.2" cy="1012.2" r="6.9"/><circle cx="1383.5" cy="1004.3" r="6.9"/><circle cx="1379.9" cy="1031.9" r="6.9"/><circle cx="1427.4" cy="942.3" r="6.9"/><circle cx="1434.7" cy="944.8" r="6.9"/><circle cx="1451.7" cy="929" r="6.9"/><circle cx="1449.3" cy="937.5" r="6.9"/><circle cx="1472.4" cy="946" r="6.9"/><circle cx="1473.6" cy="953.3" r="6.9"/><circle cx="1425" cy="955.7" r="6.9"/><circle cx="1442" cy="959.3" r="6.9"/><circle cx="1446.9" cy="961.8" r="6.9"/><circle cx="1488.2" cy="965.4" r="6.9"/><circle cx="1511.3" cy="978.8" r="6.9"/><circle cx="1519.8" cy="981.2" r="6.9"/><circle cx="1420.2" cy="994.6" r="6.9"/><circle cx="1442" cy="993.3" r="6.9"/><circle cx="1451.7" cy="998.2" r="6.9"/><circle cx="1476" cy="998.2" r="6.9"/><circle cx="1510.1" cy="995.8" r="6.9"/><circle cx="1524.6" cy="994.6" r="6.9"/><circle cx="1446.9" cy="981.2" r="6.9"/><circle cx="1465.1" cy="982.4" r="6.9"/><circle cx="1480.9" cy="983.6" r="6.9"/><circle cx="1493" cy="983.6" r="6.9"/><circle cx="1442" cy="1001.9" r="6.9"/><circle cx="1446.9" cy="998.2" r="6.9"/><circle cx="1427.4" cy="992.1" r="6.9"/><circle cx="1420.2" cy="989.7" r="6.9"/><circle cx="1466.3" cy="989.7" r="6.9"/><circle cx="1511.3" cy="1000.7" r="6.9"/><circle cx="1525.8" cy="1004.3" r="6.9"/><circle cx="1524.6" cy="993.4" r="6.9"/><circle cx="1513.7" cy="1001.9" r="6.9"/><circle cx="1527.1" cy="1005.5" r="6.9"/><circle cx="1528.3" cy="998.2" r="6.9"/><circle cx="1451.7" cy="1020.1" r="6.9"/><circle cx="1483.3" cy="1016.4" r="6.9"/><circle cx="1489.4" cy="1022.5" r="6.9"/><circle cx="1495.5" cy="1031" r="6.9"/><circle cx="1449.3" cy="1014" r="6.9"/><circle cx="1432.3" cy="1015.2" r="6.9"/><circle cx="1449.3" cy="1040.7" r="6.9"/><circle cx="1446.9" cy="1034.7" r="6.9"/><circle cx="1473.6" cy="1050.5" r="6.9"/><circle cx="1495.5" cy="988.5" r="6.9"/><circle cx="1507.6" cy="984.9" r="6.9"/><circle cx="1459" cy="987.3" r="6.9"/><circle cx="1442" cy="987.3" r="6.9"/></g>
<g stroke="#000" stroke-width="3.4">
<line x1="1395.3" y1="852.3" x2="1395.3" y2="1127"/>
<line x1="1203" y1="984.5" x2="1562.7" y2="984.5"/>
</g>
<rect x="1203" y="852.9" width="359.7" height="274.1" fill="none" stroke="#333" stroke-width="2.4"/>
<rect x="1203" y="806" width="359.7" height="45.7" fill="#d9dadb" stroke="#333" stroke-width="2.4"/>
<text class="strip" x="1382.8" y="838.4" text-anchor="middle" textLength="116.2">Firmicutes</text>
</g>
<g>
<g stroke="#f0f0f1" stroke-width="1.8">
<line x1="139.2" y1="1192.6" x2="139.2" y2="1461.5"/>
<line x1="223.2" y1="1192.6" x2="223.2" y2="1461.5"/>
<line x1="307.2" y1="1192.6" x2="307.2" y2="1461.5"/>
<line x1="391.2" y1="1192.6" x2="391.2" y2="1461.5"/>
<line x1="75.2" y1="1231.2" x2="430.9" y2="1231.2"/>
<line x1="75.2" y1="1291.6" x2="430.9" y2="1291.6"/>
<line x1="75.2" y1="1352" x2="430.9" y2="1352"/>
<line x1="75.2" y1="1412.4" x2="430.9" y2="1412.4"/>
</g>
<g stroke="#e9eaec" stroke-width="3.4">
<line x1="97.2" y1="1192.6" x2="97.2" y2="1461.5"/>
<line x1="181.2" y1="1192.6" x2="181.2" y2="1461.5"/>
<line x1="349.2" y1="1192.6" x2="349.2" y2="1461.5"/>
<line x1="75.2" y1="1201" x2="430.9" y2="1201"/>
<line x1="75.2" y1="1261.4" x2="430.9" y2="1261.4"/>
<line x1="75.2" y1="1382.2" x2="430.9" y2="1382.2"/>
<line x1="75.2" y1="1442.6" x2="430.9" y2="1442.6"/>
</g>
<g fill="#1fbcc3"><circle cx="270.9" cy="1214.6" r="6.9"/><circle cx="280.8" cy="1250.5" r="6.9"/><circle cx="305.4" cy="1246.9" r="6.9"/><circle cx="317.5" cy="1257.8" r="6.9"/><circle cx="304.9" cy="1262" r="6.9"/><circle cx="321.2" cy="1270" r="6.9"/><circle cx="320" cy="1277.3" r="6.9"/><circle cx="332.1" cy="1277.8" r="6.9"/><circle cx="320.4" cy="1287" r="6.9"/><circle cx="283.5" cy="1287.2" r="6.9"/><circle cx="236.1" cy="1275.6" r="6.9"/><circle cx="225.2" cy="1284.1" r="6.9"/><circle cx="231.5" cy="1289.9" r="6.9"/><circle cx="284.7" cy="1302.3" r="6.9"/><circle cx="285.9" cy="1314.4" r="6.9"/><circle cx="131.7" cy="1311.3" r="6.9"/><circle cx="215.5" cy="1318.6" r="6.9"/><circle cx="390.9" cy="1291.4" r="6.9"/><circle cx="352.3" cy="1294.3" r="6.9"/><circle cx="361.3" cy="1295.5" r="6.9"/><circle cx="382.6" cy="1312" r="6.9"/><circle cx="358.8" cy="1307.6" r="6.9"/><circle cx="320" cy="1307.6" r="6.9"/><circle cx="311.5" cy="1314.9" r="6.9"/><circle cx="327.2" cy="1314.9" r="6.9"/><circle cx="334.5" cy="1313.7" r="6.9"/><circle cx="345.5" cy="1308.9" r="6.9"/><circle cx="349.1" cy="1314.9" r="6.9"/><circle cx="334.5" cy="1322.2" r="6.9"/><circle cx="317.5" cy="1327.1" r="6.9"/><circle cx="349.1" cy="1325.9" r="6.9"/><circle cx="358.8" cy="1328.3" r="6.9"/><circle cx="375.8" cy="1327.1" r="6.9"/><circle cx="413.5" cy="1327.1" r="6.9"/><circle cx="402.1" cy="1332.7" r="6.9"/><circle cx="378.3" cy="1334.4" r="6.9"/><circle cx="372.2" cy="1339.2" r="6.9"/><circle cx="315.1" cy="1331.9" r="6.9"/><circle cx="294.5" cy="1335.1" r="6.9"/><circle cx="300.5" cy="1336.8" r="6.9"/><circle cx="307.8" cy="1341.7" r="6.9"/><circle cx="328" cy="1341.7" r="6.9"/><circle cx="339.4" cy="1339.2" r="6.9"/><circle cx="346.7" cy="1341.7" r="6.9"/><circle cx="356.4" cy="1340.4" r="6.9"/><circle cx="346.7" cy="1346.5" r="6.9"/><circle cx="364.9" cy="1352.6" r="6.9"/><circle cx="309" cy="1352.6" r="6.9"/><circle cx="292.8" cy="1350.9" r="6.9"/><circle cx="273.8" cy="1351.4" r="6.9"/><circle cx="283.5" cy="1360.4" r="6.9"/><circle cx="300.5" cy="1361.6" r="6.9"/><circle cx="301.7" cy="1367.2" r="6.9"/><circle cx="316.8" cy="1363" r="6.9"/><circle cx="330.9" cy="1363.5" r="6.9"/><circle cx="351.5" cy="1364.7" r="6.9"/><circle cx="360" cy="1362.3" r="6.9"/><circle cx="217.4" cy="1360.4" r="6.9"/><circle cx="210.6" cy="1362.3" r="6.9"/><circle cx="186.3" cy="1373.2" r="6.9"/><circle cx="284" cy="1377.4" r="6.9"/><circle cx="276.2" cy="1381.7" r="6.9"/><circle cx="303.4" cy="1384.2" r="6.9"/><circle cx="285" cy="1401.2" r="6.9"/><circle cx="166.2" cy="1405.3" r="6.9"/><circle cx="355.2" cy="1419.4" r="6.9"/><circle cx="361.3" cy="1334.4" r="6.9"/><circle cx="366.1" cy="1329.5" r="6.9"/><circle cx="351.5" cy="1334.4" r="6.9"/><circle cx="375.8" cy="1331.9" r="6.9"/><circle cx="339.4" cy="1329.5" r="6.9"/><circle cx="324.8" cy="1331.9" r="6.9"/><circle cx="354" cy="1322.2" r="6.9"/></g>
<g stroke="#000" stroke-width="3.4">
<line x1="265.2" y1="1190.1" x2="265.2" y2="1464"/>
<line x1="72.7" y1="1321" x2="433.4" y2="1321"/>
</g>
<rect x="72.7" y="1190.7" width="360.7" height="273.3" fill="none" stroke="#333" stroke-width="2.4"/>
<rect x="72.7" y="1143.7" width="360.7" height="45.8" fill="#d9dadb" stroke="#333" stroke-width="2.4"/>
<text class="strip" x="253" y="1176.1" text-anchor="middle" textLength="145">Fusobacteria</text>
</g>
<g>
<g stroke="#f0f0f1" stroke-width="1.8">
<line x1="515.9" y1="1192.6" x2="515.9" y2="1461.5"/>
<line x1="599.9" y1="1192.6" x2="599.9" y2="1461.5"/>
<line x1="683.9" y1="1192.6" x2="683.9" y2="1461.5"/>
<line x1="767.9" y1="1192.6" x2="767.9" y2="1461.5"/>
<line x1="452" y1="1231.2" x2="807.5" y2="1231.2"/>
<line x1="452" y1="1291.6" x2="807.5" y2="1291.6"/>
<line x1="452" y1="1352" x2="807.5" y2="1352"/>
<line x1="452" y1="1412.4" x2="807.5" y2="1412.4"/>
</g>
<g stroke="#e9eaec" stroke-width="3.4">
<line x1="473.9" y1="1192.6" x2="473.9" y2="1461.5"/>
<line x1="557.9" y1="1192.6" x2="557.9" y2="1461.5"/>
<line x1="725.9" y1="1192.6" x2="725.9" y2="1461.5"/>
<line x1="452" y1="1201" x2="807.5" y2="1201"/>
<line x1="452" y1="1261.4" x2="807.5" y2="1261.4"/>
<line x1="452" y1="1382.2" x2="807.5" y2="1382.2"/>
<line x1="452" y1="1442.6" x2="807.5" y2="1442.6"/>
</g>
<g fill="#439fda"><circle cx="573.6" cy="1262.1" r="6.9"/><circle cx="580.4" cy="1260.7" r="6.9"/><circle cx="614.9" cy="1265" r="6.9"/><circle cx="621" cy="1266.2" r="6.9"/><circle cx="629.5" cy="1267.5" r="6.9"/><circle cx="621" cy="1272.3" r="6.9"/><circle cx="614.4" cy="1278.4" r="6.9"/><circle cx="627.6" cy="1277.9" r="6.9"/><circle cx="596" cy="1286.9" r="6.9"/><circle cx="673.2" cy="1252.4" r="6.9"/><circle cx="680.5" cy="1255.3" r="6.9"/><circle cx="688.3" cy="1259" r="6.9"/><circle cx="718.4" cy="1277.2" r="6.9"/><circle cx="718.9" cy="1285" r="6.9"/><circle cx="721.8" cy="1290.5" r="6.9"/><circle cx="749.5" cy="1278.4" r="6.9"/><circle cx="651.4" cy="1293.2" r="6.9"/><circle cx="660.6" cy="1302.9" r="6.9"/><circle cx="538.4" cy="1302.7" r="6.9"/><circle cx="580.4" cy="1302.9" r="6.9"/><circle cx="588.7" cy="1306.3" r="6.9"/><circle cx="597.9" cy="1312.2" r="6.9"/><circle cx="620.5" cy="1313.1" r="6.9"/><circle cx="636.8" cy="1317.3" r="6.9"/><circle cx="648.9" cy="1311.2" r="6.9"/><circle cx="653.8" cy="1314.8" r="6.9"/><circle cx="675.2" cy="1308.3" r="6.9"/><circle cx="693.4" cy="1308" r="6.9"/><circle cx="690.2" cy="1314.8" r="6.9"/><circle cx="718.7" cy="1313.1" r="6.9"/><circle cx="714.5" cy="1318.5" r="6.9"/><circle cx="738.3" cy="1300.5" r="6.9"/><circle cx="750.3" cy="1300" r="6.9"/><circle cx="792.3" cy="1312.4" r="6.9"/><circle cx="748.6" cy="1319.2" r="6.9"/><circle cx="770.9" cy="1319.2" r="6.9"/><circle cx="764.3" cy="1325.3" r="6.9"/><circle cx="790.6" cy="1326.3" r="6.9"/><circle cx="470.4" cy="1334.5" r="6.9"/><circle cx="546.9" cy="1333.1" r="6.9"/><circle cx="595.5" cy="1330.6" r="6.9"/><circle cx="590.6" cy="1336.7" r="6.9"/><circle cx="579.7" cy="1342.3" r="6.9"/><circle cx="605.9" cy="1341.1" r="6.9"/><circle cx="636.8" cy="1325.8" r="6.9"/><circle cx="646.5" cy="1320.9" r="6.9"/><circle cx="658.7" cy="1319.7" r="6.9"/><circle cx="672" cy="1322.1" r="6.9"/><circle cx="675.2" cy="1331.8" r="6.9"/><circle cx="712.1" cy="1325.8" r="6.9"/><circle cx="726.7" cy="1327.5" r="6.9"/><circle cx="694.6" cy="1335" r="6.9"/><circle cx="647.7" cy="1337.4" r="6.9"/><circle cx="641.2" cy="1345.2" r="6.9"/><circle cx="641.7" cy="1350.1" r="6.9"/><circle cx="737.6" cy="1335.5" r="6.9"/><circle cx="709.7" cy="1339.1" r="6.9"/><circle cx="704.8" cy="1345.2" r="6.9"/><circle cx="714.5" cy="1345.2" r="6.9"/><circle cx="723" cy="1346.4" r="6.9"/><circle cx="730.3" cy="1347.6" r="6.9"/><circle cx="760.7" cy="1344" r="6.9"/><circle cx="769.2" cy="1349.3" r="6.9"/><circle cx="700" cy="1352.5" r="6.9"/><circle cx="707.2" cy="1354.9" r="6.9"/><circle cx="541.6" cy="1349.6" r="6.9"/><circle cx="551.3" cy="1347.6" r="6.9"/><circle cx="553" cy="1354.4" r="6.9"/><circle cx="604.2" cy="1353.2" r="6.9"/><circle cx="622.9" cy="1352.7" r="6.9"/><circle cx="654.3" cy="1354" r="6.9"/><circle cx="666.4" cy="1359.1" r="6.9"/><circle cx="679.1" cy="1356.4" r="6.9"/><circle cx="692.2" cy="1361.2" r="6.9"/><circle cx="697.5" cy="1367.1" r="6.9"/><circle cx="707.2" cy="1364.6" r="6.9"/><circle cx="721.8" cy="1359.8" r="6.9"/><circle cx="712.1" cy="1369.5" r="6.9"/><circle cx="727.4" cy="1370.2" r="6.9"/><circle cx="773.6" cy="1363.2" r="6.9"/><circle cx="534.3" cy="1362.7" r="6.9"/><circle cx="639.7" cy="1366.6" r="6.9"/><circle cx="652.6" cy="1373.1" r="6.9"/><circle cx="659.9" cy="1373.1" r="6.9"/><circle cx="673.2" cy="1372.4" r="6.9"/><circle cx="684.9" cy="1376.3" r="6.9"/><circle cx="704.8" cy="1370.7" r="6.9"/><circle cx="714.5" cy="1376.8" r="6.9"/><circle cx="717" cy="1382.1" r="6.9"/><circle cx="726.2" cy="1386.5" r="6.9"/><circle cx="607.2" cy="1375.8" r="6.9"/><circle cx="542.8" cy="1381.7" r="6.9"/><circle cx="585.8" cy="1394.3" r="6.9"/><circle cx="642.4" cy="1391.4" r="6.9"/><circle cx="654.3" cy="1407.2" r="6.9"/><circle cx="663" cy="1410.8" r="6.9"/><circle cx="617.4" cy="1419.8" r="6.9"/></g>
<g stroke="#000" stroke-width="3.4">
<line x1="641.9" y1="1190.1" x2="641.9" y2="1464"/>
<line x1="449.5" y1="1321" x2="810" y2="1321"/>
</g>
<rect x="449.5" y="1190.7" width="360.5" height="273.3" fill="none" stroke="#333" stroke-width="2.4"/>
<rect x="449.5" y="1143.7" width="360.5" height="45.8" fill="#d9dadb" stroke="#333" stroke-width="2.4"/>
<text class="strip" x="629.8" y="1176.1" text-anchor="middle" textLength="163">Proteobacteria</text>
</g>
<g>
<g stroke="#f0f0f1" stroke-width="1.8">
<line x1="892.3" y1="1192.6" x2="892.3" y2="1461.5"/>
<line x1="976.3" y1="1192.6" x2="976.3" y2="1461.5"/>
<line x1="1060.3" y1="1192.6" x2="1060.3" y2="1461.5"/>
<line x1="1144.3" y1="1192.6" x2="1144.3" y2="1461.5"/>
<line x1="828.5" y1="1231.2" x2="1183.9" y2="1231.2"/>
<line x1="828.5" y1="1291.6" x2="1183.9" y2="1291.6"/>
<line x1="828.5" y1="1352" x2="1183.9" y2="1352"/>
<line x1="828.5" y1="1412.4" x2="1183.9" y2="1412.4"/>
</g>
<g stroke="#e9eaec" stroke-width="3.4">
<line x1="850.3" y1="1192.6" x2="850.3" y2="1461.5"/>
<line x1="934.3" y1="1192.6" x2="934.3" y2="1461.5"/>
<line x1="1102.3" y1="1192.6" x2="1102.3" y2="1461.5"/>
<line x1="828.5" y1="1201" x2="1183.9" y2="1201"/>
<line x1="828.5" y1="1261.4" x2="1183.9" y2="1261.4"/>
<line x1="828.5" y1="1382.2" x2="1183.9" y2="1382.2"/>
<line x1="828.5" y1="1442.6" x2="1183.9" y2="1442.6"/>
</g>
<g fill="#a67dba"><circle cx="1065" cy="1202.6" r="6.9"/><circle cx="1084.2" cy="1238.3" r="6.9"/><circle cx="1057.7" cy="1251.7" r="6.9"/><circle cx="1059.7" cy="1254.1" r="6.9"/><circle cx="1035.4" cy="1254.8" r="6.9"/><circle cx="1039.5" cy="1263.1" r="6.9"/><circle cx="1108" cy="1259" r="6.9"/><circle cx="1113.6" cy="1265" r="6.9"/><circle cx="1104.6" cy="1267" r="6.9"/><circle cx="1075.2" cy="1268.7" r="6.9"/><circle cx="1055.8" cy="1269.4" r="6.9"/><circle cx="1056" cy="1278.4" r="6.9"/><circle cx="1091" cy="1273.1" r="6.9"/><circle cx="1095.4" cy="1279.6" r="6.9"/><circle cx="998.2" cy="1269.9" r="6.9"/><circle cx="1012.3" cy="1272.8" r="6.9"/><circle cx="980" cy="1276" r="6.9"/><circle cx="984.1" cy="1285.7" r="6.9"/><circle cx="886" cy="1290.5" r="6.9"/><circle cx="1058" cy="1287.9" r="6.9"/><circle cx="1040.7" cy="1291.8" r="6.9"/><circle cx="1120.2" cy="1284" r="6.9"/><circle cx="1111.2" cy="1286.9" r="6.9"/><circle cx="1097.8" cy="1286.9" r="6.9"/><circle cx="1085.7" cy="1291.3" r="6.9"/><circle cx="1095.4" cy="1295.4" r="6.9"/><circle cx="1108.8" cy="1296.6" r="6.9"/><circle cx="1132.6" cy="1296.1" r="6.9"/><circle cx="1146.9" cy="1298.3" r="6.9"/><circle cx="1136.2" cy="1303.9" r="6.9"/><circle cx="1116" cy="1304.6" r="6.9"/><circle cx="985.1" cy="1301.5" r="6.9"/><circle cx="1035.9" cy="1305.1" r="6.9"/><circle cx="1092.5" cy="1308.8" r="6.9"/><circle cx="968.6" cy="1314.1" r="6.9"/><circle cx="1023.7" cy="1315.3" r="6.9"/><circle cx="1076" cy="1314.4" r="6.9"/><circle cx="1103.9" cy="1317.3" r="6.9"/><circle cx="1083.2" cy="1319.7" r="6.9"/><circle cx="1169.5" cy="1319.2" r="6.9"/><circle cx="1040" cy="1324.6" r="6.9"/><circle cx="1119.7" cy="1326.5" r="6.9"/><circle cx="1115.3" cy="1333.5" r="6.9"/><circle cx="1144.5" cy="1343.5" r="6.9"/><circle cx="1170" cy="1345.9" r="6.9"/><circle cx="1097.8" cy="1352.5" r="6.9"/><circle cx="1091.3" cy="1373.1" r="6.9"/><circle cx="1091" cy="1397" r="6.9"/><circle cx="1125" cy="1405.9" r="6.9"/><circle cx="963.2" cy="1430" r="6.9"/><circle cx="1102.7" cy="1290.5" r="6.9"/><circle cx="1093" cy="1286.9" r="6.9"/></g>
<g stroke="#000" stroke-width="3.4">
<line x1="1018.3" y1="1190.1" x2="1018.3" y2="1464"/>
<line x1="826" y1="1321" x2="1186.4" y2="1321"/>
</g>
<rect x="826" y="1190.7" width="360.4" height="273.3" fill="none" stroke="#333" stroke-width="2.4"/>
<rect x="826" y="1143.7" width="360.4" height="45.8" fill="#d9dadb" stroke="#333" stroke-width="2.4"/>
<text class="strip" x="1006.2" y="1176.1" text-anchor="middle" textLength="146">Spirochaetes</text>
</g>
<g>
<g stroke="#f0f0f1" stroke-width="1.8">
<line x1="1269.3" y1="1192.6" x2="1269.3" y2="1461.5"/>
<line x1="1353.3" y1="1192.6" x2="1353.3" y2="1461.5"/>
<line x1="1437.3" y1="1192.6" x2="1437.3" y2="1461.5"/>
<line x1="1521.3" y1="1192.6" x2="1521.3" y2="1461.5"/>
<line x1="1205.5" y1="1231.2" x2="1560.2" y2="1231.2"/>
<line x1="1205.5" y1="1291.6" x2="1560.2" y2="1291.6"/>
<line x1="1205.5" y1="1352" x2="1560.2" y2="1352"/>
<line x1="1205.5" y1="1412.4" x2="1560.2" y2="1412.4"/>
</g>
<g stroke="#e9eaec" stroke-width="3.4">
<line x1="1227.3" y1="1192.6" x2="1227.3" y2="1461.5"/>
<line x1="1311.3" y1="1192.6" x2="1311.3" y2="1461.5"/>
<line x1="1479.3" y1="1192.6" x2="1479.3" y2="1461.5"/>
<line x1="1205.5" y1="1201" x2="1560.2" y2="1201"/>
<line x1="1205.5" y1="1261.4" x2="1560.2" y2="1261.4"/>
<line x1="1205.5" y1="1382.2" x2="1560.2" y2="1382.2"/>
<line x1="1205.5" y1="1442.6" x2="1560.2" y2="1442.6"/>
</g>
<g fill="#e56bb0"><circle cx="1367.1" cy="1272.1" r="6.9"/><circle cx="1437.6" cy="1273" r="6.9"/><circle cx="1452.5" cy="1287.2" r="6.9"/></g>
<g stroke="#000" stroke-width="3.4">
<line x1="1395.3" y1="1190.1" x2="1395.3" y2="1464"/>
<line x1="1203" y1="1321" x2="1562.7" y2="1321"/>
</g>
<rect x="1203" y="1190.7" width="359.7" height="273.3" fill="none" stroke="#333" stroke-width="2.4"/>
<rect x="1203" y="1143.7" width="359.7" height="45.8" fill="#d9dadb" stroke="#333" stroke-width="2.4"/>
<text class="strip" x="1382.8" y="1176.1" text-anchor="middle" textLength="129.3">Tenericutes</text>
</g>
<text class="title" x="818.8" y="1501.8" text-anchor="middle" textLength="281.5">Component 1 (7.3%)</text>
<text class="title" transform="translate(50.4,1158.8) rotate(-90)" text-anchor="middle" textLength="282">Component 2 (3.4%)</text>
</g>
</svg></body></html>
